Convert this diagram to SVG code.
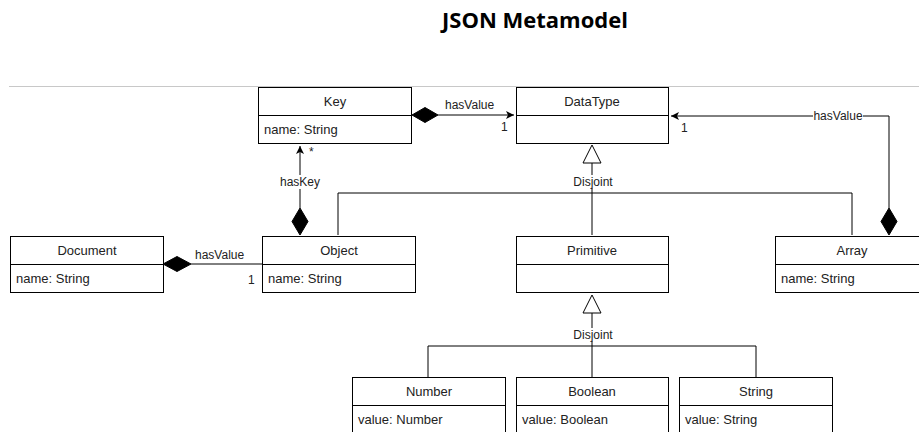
<svg xmlns="http://www.w3.org/2000/svg" width="919" height="432" viewBox="0 0 919 432">
<defs>
<style>
.box{fill:#fff;stroke:#000;stroke-width:1}
.t{font-family:"Liberation Sans",Arial,sans-serif;font-size:13px;fill:#222}
.c{text-anchor:middle}
.l{font-family:"Liberation Sans",Arial,sans-serif;font-size:12px;fill:#222}
.ln{fill:none;stroke:#000;stroke-width:1}
.dia{fill:#000;stroke:#000}
.tri{fill:#fff;stroke:#000;stroke-width:1}
.bg{fill:#fff}
</style>
<marker id="arr" markerWidth="10" markerHeight="10" refX="8" refY="4" orient="auto" markerUnits="userSpaceOnUse">
<path d="M0,0 L8,4 L0,8 L2,4 Z" fill="#000"/>
</marker>
</defs>
<rect width="919" height="432" fill="#fff"/>
<text x="535" y="28" text-anchor="middle" font-family="'Open Sans',sans-serif" font-weight="bold" font-size="22" fill="#000">JSON Metamodel</text>
<line x1="9" y1="86.5" x2="919" y2="86.5" stroke="#c8c8c8" stroke-width="1"/>

<g id="connectors">
<!-- Key -> DataType -->
<line class="ln" x1="438" y1="115" x2="514" y2="115" marker-end="url(#arr)"/>
<polygon class="dia" points="412,115 425,107.5 438,115 425,122.5"/>
<text class="l" x="445" y="109">hasValue</text>
<text class="l" x="501" y="131">1</text>
<!-- Object -> Key -->
<line class="ln" x1="300" y1="208" x2="300" y2="146" marker-end="url(#arr)"/>
<polygon class="dia" points="300,235 292,221.5 300,208 308,221.5"/>
<rect class="bg" x="276" y="175" width="48" height="14"/>
<text class="l c" x="300" y="186">hasKey</text>
<text class="l" x="309" y="156">*</text>
<!-- Document -> Object -->
<line class="ln" x1="191" y1="264" x2="262" y2="264"/>
<polygon class="dia" points="163,264 177,256.5 191,264 177,271.5"/>
<text class="l" x="195" y="259">hasValue</text>
<text class="l" x="248" y="284">1</text>
<!-- Array -> DataType -->
<polyline class="ln" points="889,208 889,116 671,116" marker-end="url(#arr)"/>
<polygon class="dia" points="889,235 881,221.5 889,208 897,221.5"/>
<rect class="bg" x="813" y="109" width="50" height="14"/>
<text class="l c" x="838" y="120">hasValue</text>
<text class="l" x="681" y="132">1</text>
<!-- Generalization DataType -->
<polyline class="ln" points="338,235 338,193 852,193 852,235"/>
<line class="ln" x1="592" y1="163" x2="592" y2="235"/>
<polygon class="tri" points="592,145 601,163 583,163"/>
<rect class="bg" x="570" y="175" width="46" height="13"/>
<text class="l c" x="593" y="186">Disjoint</text>
<!-- Generalization Primitive -->
<polyline class="ln" points="428,377 428,346 756,346 756,377"/>
<line class="ln" x1="592" y1="313" x2="592" y2="377"/>
<polygon class="tri" points="592,295 601,313 583,313"/>
<rect class="bg" x="570" y="328" width="46" height="13"/>
<text class="l c" x="593" y="339">Disjoint</text>
</g>

<g id="Key">
<rect class="box" x="258.5" y="87.5" width="153" height="56"/>
<line class="ln" x1="258.5" y1="115.5" x2="411.5" y2="115.5"/>
<text class="t c" x="335" y="106">Key</text>
<text class="t" x="264" y="134">name: String</text>
</g>
<g id="DataType">
<rect class="box" x="516.5" y="87.5" width="152" height="56"/>
<line class="ln" x1="516.5" y1="115.5" x2="668.5" y2="115.5"/>
<text class="t c" x="592" y="106">DataType</text>
</g>
<g id="Document">
<rect class="box" x="10.5" y="236.5" width="153" height="56"/>
<line class="ln" x1="10.5" y1="264.5" x2="163.5" y2="264.5"/>
<text class="t c" x="87" y="255">Document</text>
<text class="t" x="16" y="283">name: String</text>
</g>
<g id="Object">
<rect class="box" x="262.5" y="236.5" width="153" height="56"/>
<line class="ln" x1="262.5" y1="264.5" x2="415.5" y2="264.5"/>
<text class="t c" x="339" y="255">Object</text>
<text class="t" x="268" y="283">name: String</text>
</g>
<g id="Primitive">
<rect class="box" x="516.5" y="236.5" width="152" height="56"/>
<line class="ln" x1="516.5" y1="264.5" x2="668.5" y2="264.5"/>
<text class="t c" x="592" y="255">Primitive</text>
</g>
<g id="Array">
<rect class="box" x="775.5" y="236.5" width="153" height="56"/>
<line class="ln" x1="775.5" y1="264.5" x2="928.5" y2="264.5"/>
<text class="t c" x="852" y="255">Array</text>
<text class="t" x="781" y="283">name: String</text>
</g>
<g id="Number">
<rect class="box" x="352.5" y="377.5" width="153" height="60"/>
<line class="ln" x1="352.5" y1="405.5" x2="505.5" y2="405.5"/>
<text class="t c" x="429" y="396">Number</text>
<text class="t" x="358" y="424">value: Number</text>
</g>
<g id="Boolean">
<rect class="box" x="516.5" y="377.5" width="152" height="60"/>
<line class="ln" x1="516.5" y1="405.5" x2="668.5" y2="405.5"/>
<text class="t c" x="592" y="396">Boolean</text>
<text class="t" x="522" y="424">value: Boolean</text>
</g>
<g id="String">
<rect class="box" x="679.5" y="377.5" width="153" height="60"/>
<line class="ln" x1="679.5" y1="405.5" x2="832.5" y2="405.5"/>
<text class="t c" x="756" y="396">String</text>
<text class="t" x="685" y="424">value: String</text>
</g>
</svg>
